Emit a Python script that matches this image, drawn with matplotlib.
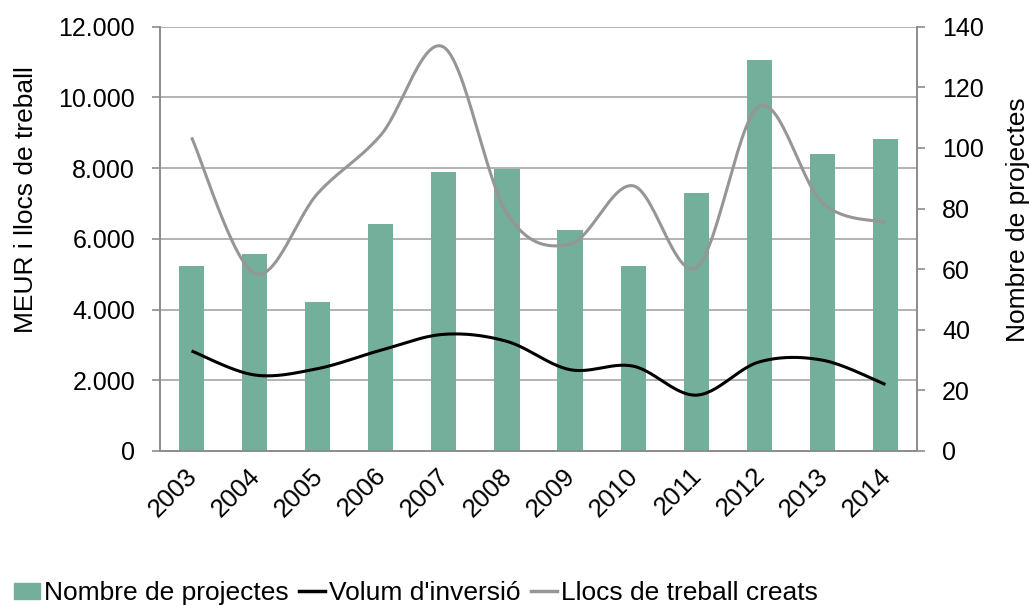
import numpy as np
from matplotlib import pyplot as plt
from matplotlib.lines import Line2D
from matplotlib.patches import Patch
from matplotlib.ticker import FuncFormatter
from matplotlib.transforms import ScaledTranslation

plt.rcParams['font.family'] = ['Liberation Sans', 'DejaVu Sans']

years = ['2003', '2004', '2005', '2006', '2007', '2008',
         '2009', '2010', '2011', '2012', '2013', '2014']
projectes = [61, 65, 49, 75, 92, 93, 73, 61, 85, 129, 98, 103]
inversio = [2830, 2150, 2330, 2850, 3300, 3100, 2300, 2400, 1580, 2520, 2570, 1880]
llocs = [8870, 5020, 7285, 8935, 11420, 6720, 5850, 7500, 5190, 9755, 7020, 6465]


def smooth(xs, ys, n=30):
    # bezier smoothing like excel (catmull-rom control points)
    xs = np.asarray(xs, float)
    ys = np.asarray(ys, float)
    px = np.concatenate([[xs[0]], xs, [xs[-1]]])
    py = np.concatenate([[ys[0]], ys, [ys[-1]]])
    outx, outy = [], []
    t = np.linspace(0, 1, n)
    for i in range(1, len(px) - 2):
        p0 = np.array([px[i], py[i]])
        p3 = np.array([px[i + 1], py[i + 1]])
        c1 = p0 + (np.array([px[i + 1], py[i + 1]]) - np.array([px[i - 1], py[i - 1]])) / 6
        c2 = p3 - (np.array([px[i + 2], py[i + 2]]) - np.array([px[i], py[i]])) / 6
        b = ((1 - t) ** 3)[:, None] * p0 + (3 * (1 - t) ** 2 * t)[:, None] * c1 \
            + (3 * (1 - t) * t ** 2)[:, None] * c2 + (t ** 3)[:, None] * p3
        outx.extend(b[:, 0])
        outy.extend(b[:, 1])
    return outx, outy


fig = plt.figure(figsize=(10.30, 6.05), dpi=100)
ax = fig.add_axes([160 / 1030, 1 - 451 / 605, 757 / 1030, 424.3 / 605])
ax2 = ax.twinx()

x = np.arange(len(years))
bar_color = '#73AF9A'
grid_color = '#a6a6a6'
fs = 19

ax2.bar(x, projectes, width=0.4, color=bar_color, zorder=1)
ax2.set_ylim(0, 140)
ax2.set_yticks(range(0, 141, 20))

ax.set_zorder(ax2.get_zorder() + 1)
ax.patch.set_visible(False)

sx, sy = smooth(x, llocs)
ax.plot(sx, sy, color='#969696', lw=2.2, solid_capstyle='butt')
sx, sy = smooth(x, inversio)
ax.plot(sx, sy, color='black', lw=2.2, solid_capstyle='butt')

ax.set_ylim(0, 12000)
ax.set_yticks(range(0, 12001, 2000))
ax.yaxis.set_major_formatter(FuncFormatter(lambda v, p: f'{int(v):,}'.replace(',', '.')))
ax.set_xlim(-0.5, len(years) - 0.5)
ax.set_xticks(x)
ax.set_xticklabels(years, rotation=45, ha='right', va='top', rotation_mode='anchor')

ax2.grid(False)
for v in range(2000, 12001, 2000):
    ax2.axhline(v * 140 / 12000, color=grid_color, lw=1.2, zorder=0)

for a in (ax, ax2):
    for s in a.spines.values():
        s.set_color('#8c8c8c')
        s.set_linewidth(1.2)
    a.spines['top'].set_visible(False)
    a.tick_params(labelsize=18, length=6, width=1.2, color='#8c8c8c', pad=12)
ax.tick_params(axis='x', length=0, pad=8, labelsize=18.5)
off = ScaledTranslation(-5 / 72, -1 / 72, fig.dpi_scale_trans)
for lbl in ax.get_xticklabels():
    lbl.set_transform(lbl.get_transform() + off)

ax.set_ylabel('MEUR i llocs de treball', fontsize=fs)
ax.yaxis.set_label_coords(-0.161, 0.592)
ax2.set_ylabel('Nombre de projectes', fontsize=fs)
ax2.yaxis.set_label_coords(1.1176, 0.544)

handles = [Patch(color=bar_color),
           Line2D([], [], color='black', lw=2.5),
           Line2D([], [], color='#969696', lw=2.5)]
labels = ['Nombre de projectes', "Volum d'inversió", 'Llocs de treball creats']
fig.legend(handles, labels, loc='lower left', bbox_to_anchor=(14 / 1030, 0.0), ncol=3,
           frameon=False, fontsize=fs, handlelength=1.0, handletextpad=0.15,
           columnspacing=0.38, handleheight=0.57, borderpad=0, borderaxespad=0)

fig.savefig('out.png', dpi=100)
